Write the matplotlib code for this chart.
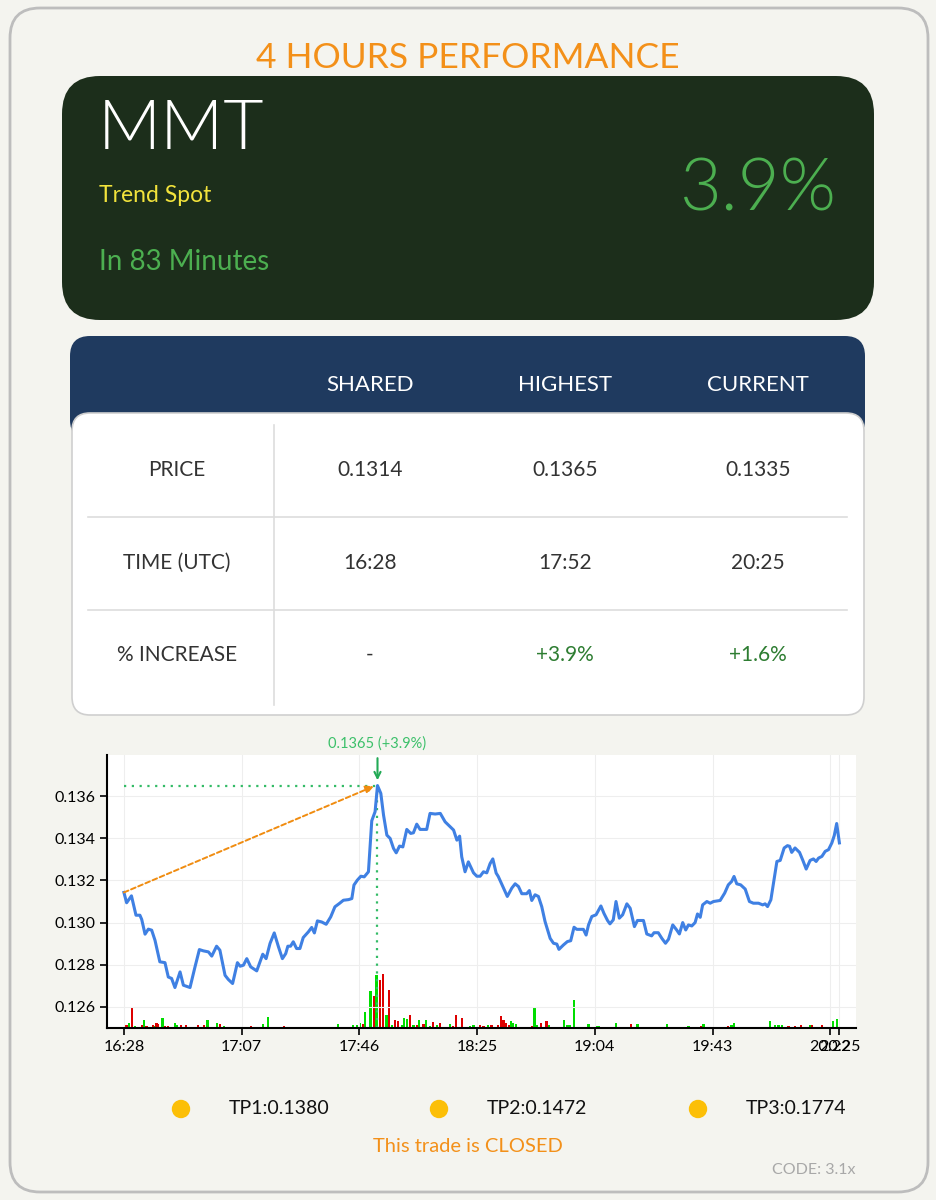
import matplotlib
matplotlib.use("Agg")
import matplotlib.pyplot as plt
from matplotlib.patches import FancyBboxPatch, Circle

plt.rcParams['font.family'] = ['Lato', 'DejaVu Sans']

# ---------------- data ----------------
title = "4 HOURS PERFORMANCE"
symbol = "MMT"
subtitle = "Trend Spot"
duration_text = "In 83 Minutes"
gain_text = "3.9%"

col_headers = ["SHARED", "HIGHEST", "CURRENT"]
row_labels = ["PRICE", "TIME (UTC)", "% INCREASE"]
row_price = ["0.1314", "0.1365", "0.1335"]
row_time = ["16:28", "17:52", "20:25"]
row_increase = ["-", "+3.9%", "+1.6%"]

tp_labels = ["TP1:0.1380", "TP2:0.1472", "TP3:0.1774"]
status_text = "This trade is CLOSED"
code_text = "CODE: 3.1x"

# minutes after 16:28
price_min = [0, 0.9, 2.5, 4.0, 5.3, 5.9, 7.0, 8.1, 9.2, 10.3,
             11.9, 13.6, 14.7, 15.8, 16.9, 18.6, 19.7, 21.9, 23.5, 25.0,
             26.3, 28.0, 29.1, 30.7, 31.8, 33.5, 34.6, 36.0, 37.6, 38.5,
             39.6, 40.7, 42.0, 44.0, 46.0, 47.1, 48.4, 49.8, 51.2, 52.5,
             53.6, 54.3, 55.2, 56.1, 57.2, 58.3, 59.4, 61.1, 62.2, 63.1,
             64.1, 65.5, 67.0, 68.5, 69.9, 71.4, 72.7, 74.4, 75.5, 76.2,
             77.3, 78.5, 79.6, 81.0, 82.1, 83.2, 84.0, 85.1, 86.0, 87.1,
             88.2, 89.3, 90.2, 91.3, 92.4, 93.7, 95.0, 95.9, 97.0, 98.1,
             100.3, 101.4, 103.1, 104.8, 106.4, 108.1, 109.2, 110.3, 111.2, 111.9,
             113.0, 114.1, 115.8, 116.9, 118.0, 119.1, 120.2, 121.3, 122.2, 123.3,
             124.0, 125.5, 127.0, 128.5, 129.6, 130.7, 131.8, 133.4, 134.3, 135.1,
             136.2, 137.3, 138.4, 139.5, 141.2, 142.3, 143.4, 144.1, 145.6, 146.9,
             148.0, 149.1, 150.0, 152.2, 153.1, 153.9, 155.0, 156.4, 158.0, 159.0,
             160.2, 161.0, 162.1, 163.0, 164.1, 165.2, 166.6, 167.7, 169.1, 170.1,
             172.1, 173.2, 174.8, 175.6, 177.0, 178.2, 179.4, 180.4, 181.8, 183.1,
             184.0, 185.1, 186.1, 187.0, 188.1, 189.2, 190.0, 190.9, 191.7, 193.1,
             194.2, 195.3, 197.5, 199.0, 200.2, 201.3, 202.1, 203.0, 204.3, 205.8,
             207.2, 208.5, 210.2, 211.6, 212.4, 213.2, 214.3, 216.3, 217.4, 218.7,
             219.8, 220.5, 221.2, 222.3, 223.8, 224.9, 226.0, 227.3, 228.4, 229.3,
             230.1, 231.2, 232.3, 233.4, 234.5, 235.3, 236.1, 237.0]
price_val = [0.13143, 0.13094, 0.13127, 0.13035, 0.13035, 0.13015, 0.12945, 0.12969, 0.12964, 0.12916,
             0.12814, 0.12810, 0.12742, 0.12735, 0.12692, 0.12766, 0.12703, 0.12692, 0.12787, 0.12872,
             0.12866, 0.12861, 0.12841, 0.12888, 0.12869, 0.12750, 0.12730, 0.12711, 0.12810, 0.12793,
             0.12798, 0.12829, 0.12790, 0.12771, 0.12850, 0.12829, 0.12901, 0.12951, 0.12885, 0.12829,
             0.12853, 0.12888, 0.12888, 0.12909, 0.12877, 0.12877, 0.12929, 0.12956, 0.12977, 0.12951,
             0.13008, 0.13003, 0.12992, 0.13027, 0.13075, 0.13091, 0.13106, 0.13109, 0.13114, 0.13178,
             0.13201, 0.13220, 0.13217, 0.13241, 0.13483, 0.13526, 0.13650, 0.13613, 0.13510, 0.13415,
             0.13399, 0.13352, 0.13331, 0.13363, 0.13359, 0.13442, 0.13423, 0.13426, 0.13467, 0.13442,
             0.13442, 0.13518, 0.13515, 0.13518, 0.13478, 0.13454, 0.13439, 0.13391, 0.13410, 0.13312,
             0.13241, 0.13288, 0.13236, 0.13220, 0.13220, 0.13241, 0.13236, 0.13280, 0.13302, 0.13235,
             0.13219, 0.13171, 0.13124, 0.13164, 0.13184, 0.13171, 0.13137, 0.13137, 0.13152, 0.13105,
             0.13132, 0.13124, 0.13076, 0.13005, 0.12925, 0.12902, 0.12898, 0.12873, 0.12894, 0.12910,
             0.12914, 0.12978, 0.12968, 0.12968, 0.12941, 0.12989, 0.13029, 0.13037, 0.13079, 0.13044,
             0.13010, 0.12994, 0.13013, 0.13100, 0.13021, 0.13037, 0.13089, 0.13068, 0.12981, 0.13010,
             0.13010, 0.12946, 0.12937, 0.12952, 0.12952, 0.12925, 0.12902, 0.12921, 0.12989, 0.12965,
             0.12946, 0.13000, 0.12965, 0.12989, 0.12984, 0.13000, 0.13041, 0.13025, 0.13084, 0.13100,
             0.13092, 0.13100, 0.13105, 0.13140, 0.13179, 0.13195, 0.13219, 0.13184, 0.13179, 0.13159,
             0.13100, 0.13092, 0.13092, 0.13084, 0.13089, 0.13076, 0.13108, 0.13290, 0.13295, 0.13354,
             0.13365, 0.13362, 0.13333, 0.13354, 0.13333, 0.13295, 0.13254, 0.13295, 0.13302, 0.13290,
             0.13306, 0.13314, 0.13338, 0.13346, 0.13378, 0.13413, 0.13470, 0.13378]

vol_min = [0.9, 1.8, 2.8, 3.6, 5.9, 6.6, 7.5, 8.6, 9.7, 10.3,
           10.8, 11.4, 12.8, 13.6, 14.7, 16.9, 17.7, 18.9, 19.7, 20.5,
           21.9, 23.0, 24.6, 26.6, 27.7, 29.9, 30.9, 31.8, 33.1, 34.0,
           42.0, 46.1, 47.8, 49.5, 51.1, 53.0, 53.9, 62.2, 63.3, 68.8,
           71.0, 76.0, 77.1, 78.2, 79.1, 79.9, 81.7, 82.9, 83.7, 84.8,
           85.9, 87.0, 87.9, 88.9, 89.8, 90.7, 92.0, 92.9, 93.7, 94.8,
           95.9, 97.0, 97.7, 99.2, 100.0, 101.4, 102.5, 103.6, 104.7, 105.8,
           108.0, 109.1, 110.0, 111.9, 113.5, 114.6, 115.8, 118.0, 119.1, 120.0,
           120.7, 121.8, 124.0, 124.9, 125.7, 126.6, 127.7, 128.1, 129.0, 129.9,
           131.0, 132.9, 135.1, 136.0, 136.7, 138.1, 139.0, 140.0, 140.8, 143.1,
           145.8, 146.9, 147.8, 149.1, 150.0, 153.9, 156.6, 157.2, 159.0, 160.0,
           161.0, 163.0, 166.0, 168.0, 170.1, 179.8, 185.3, 187.0, 190.3, 191.1,
           192.0, 195.8, 200.2, 201.3, 202.2, 214.1, 215.7, 216.8, 217.9, 220.1,
           222.3, 224.2, 227.3, 227.9, 231.2, 235.0, 236.1]
vol_val = [8, 15, 61, 5, 10, 23, 5, 3, 8, 6,
           16, 11, 30, 5, 6, 16, 8, 8, 3, 8,
           3, 3, 8, 8, 24, 3, 16, 13, 5, 3,
           5, 11, 33, 3, 3, 5, 3, 3, 3, 3,
           13, 10, 10, 16, 11, 48, 111, 95, 158, 145,
           161, 38, 113, 10, 25, 20, 8, 30, 26, 38,
           8, 10, 23, 13, 23, 6, 18, 8, 16, 3,
           13, 6, 40, 30, 3, 6, 10, 8, 5, 3,
           8, 10, 10, 35, 25, 16, 8, 21, 16, 11,
           3, 3, 5, 60, 8, 16, 3, 21, 8, 3,
           25, 10, 8, 85, 3, 13, 5, 5, 3, 3,
           3, 16, 3, 13, 11, 11, 3, 5, 3, 5,
           13, 3, 5, 8, 16, 21, 10, 8, 8, 5,
           6, 8, 8, 8, 8, 20, 28]
vol_up = ["r", "g", "r", "g", "r", "g", "r", "r", "r", "g",
          "r", "r", "g", "r", "r", "g", "g", "r", "g", "r",
          "g", "g", "r", "r", "g", "g", "g", "r", "g", "g",
          "r", "g", "g", "r", "r", "r", "g", "r", "r", "g",
          "g", "g", "g", "g", "r", "g", "g", "r", "g", "r",
          "r", "g", "r", "g", "r", "r", "g", "g", "g", "r",
          "g", "r", "g", "r", "g", "g", "r", "g", "r", "r",
          "g", "r", "r", "r", "g", "g", "g", "r", "r", "r",
          "g", "r", "r", "r", "r", "r", "r", "g", "g", "g",
          "r", "g", "r", "g", "g", "r", "g", "r", "g", "r",
          "g", "g", "g", "g", "g", "g", "g", "g", "r", "r",
          "r", "g", "g", "r", "g", "g", "g", "g", "r", "r",
          "g", "g", "r", "g", "g", "g", "g", "g", "g", "r",
          "r", "r", "g", "r", "r", "g", "g"]

xtick_pos = [0, 39, 78, 117, 156, 195, 234, 237]
xtick_labels = ["16:28", "17:07", "17:46", "18:25", "19:04", "19:43", "20:22", "20:25"]
ytick_vals = [0.126, 0.128, 0.130, 0.132, 0.134, 0.136]

start_min, start_price = 0, 0.13143
peak_min, peak_price = 84.0, 0.1365
peak_label = "0.1365 (+3.9%)"

# ---------------- figure ----------------
W, H = 936, 1200
BG = "#f4f4ef"
fig = plt.figure(figsize=(W / 100, H / 100), dpi=100, facecolor=BG)

bg = fig.add_axes([0, 0, 1, 1])
bg.set_xlim(0, W)
bg.set_ylim(H, 0)
bg.axis("off")

def rbox(x0, y0, x1, y1, r, fc, ec="none", lw=0, z=1):
    p = FancyBboxPatch((x0, y0), x1 - x0, y1 - y0,
                       boxstyle=f"round,pad=0,rounding_size={r}",
                       fc=fc, ec=ec, lw=lw, zorder=z)
    bg.add_patch(p)

# outer card
rbox(10, 8, 928, 1192, 30, BG, ec="#bdbdbd", lw=2, z=0)

bg.text(468, 58, title, color="#f39019", fontsize=25.5, ha="center", va="center")

# dark card
rbox(62, 76, 874, 320, 38, "#1c2e1b", z=1)
bg.text(98, 130, symbol, color="white", fontsize=50, ha="left", va="center",
        fontweight=300)
bg.text(99, 196, subtitle, color="#f2e33c", fontsize=16.5, ha="left", va="center")
bg.text(99, 262, duration_text, color="#4caf50", fontsize=20, ha="left", va="center")
bg.text(836, 190, gain_text, color="#4caf50", fontsize=52, ha="right", va="center",
        fontweight=300)

# table
rbox(70, 336, 865, 440, 20, "#1f3a5f", z=1)
rbox(72, 413, 864, 715, 18, "white", ec="#cfcfcf", lw=1.2, z=2)
col_x = [177, 370, 565, 758]
for cx, h in zip(col_x[1:], col_headers):
    bg.text(cx, 385, h, color="white", fontsize=16, ha="center", va="center")
bg.plot([274, 274], [425, 705], color="#dddddd", lw=1.2, zorder=3)
for yy in (517, 610):
    bg.plot([88, 847], [yy, yy], color="#dddddd", lw=1.2, zorder=3)
row_y = [470, 563, 655]
rows = [row_price, row_time, row_increase]
for ry, lab, vals in zip(row_y, row_labels, rows):
    bg.text(col_x[0], ry, lab, color="#333333", fontsize=15, ha="center", va="center", zorder=4)
    for cx, v in zip(col_x[1:], vals):
        c = "#2e7d32" if v.startswith("+") else "#333333"
        bg.text(cx, ry, v, color=c, fontsize=15, ha="center", va="center", zorder=4)

# TP legend
for dx, lab in zip([181, 439, 698], tp_labels):
    bg.add_patch(Circle((dx, 1109), 8.5, color="#fcbf07", zorder=3))
    bg.text(dx + 48, 1109, lab, color="#111111", fontsize=14, ha="left", va="center")
bg.text(468, 1147, status_text, color="#f39019", fontsize=14.5, ha="center", va="center")
bg.text(856, 1170, code_text, color="#a8a8a8", fontsize=11.5, ha="right", va="center")

# ---------------- chart ----------------
L, R, T, B = 107, 856, 755, 1028
ax = fig.add_axes([L / W, 1 - B / H, (R - L) / W, (B - T) / H])
ax.set_facecolor("white")
vax = ax.twinx()
vax.bar(vol_min, vol_val, width=0.75,
        color=["#00dd00" if c == "g" else "#dd0000" for c in vol_up], zorder=1)
vax.set_ylim(0, 819)
vax.set_yticks([])
for s in vax.spines.values():
    s.set_visible(False)

ax.set_zorder(vax.get_zorder() + 1)
ax.patch.set_visible(False)
vax.patch.set_visible(True)
vax.patch.set_facecolor("white")

ax.plot(price_min, price_val, color="#3f80e3", lw=2.2, zorder=3)

ax.set_xlim(-5.6, 242.5)
ax.set_ylim(0.1250, 0.13795)
ax.set_xticks(xtick_pos)
ax.set_xticklabels(xtick_labels)
ax.set_yticks(ytick_vals)
ax.set_yticklabels([f"{v:.3f}" for v in ytick_vals])
ax.tick_params(axis="both", labelsize=11.5, color="black", length=5, width=1.2)
ax.grid(True, color="#eeeeee", lw=0.8)
ax.set_axisbelow(True)
for s in ("top", "right"):
    ax.spines[s].set_visible(False)
for s in ("left", "bottom"):
    ax.spines[s].set_linewidth(1.5)
    ax.spines[s].set_color("black")

GREEN = "#33bb66"
ax.plot([start_min, peak_min], [peak_price, peak_price], color=GREEN, lw=1.6,
        linestyle=(0, (1, 2.5)), zorder=2)
ax.plot([peak_min, peak_min], [0.1250, peak_price], color=GREEN, lw=1.6,
        linestyle=(0, (1, 2.5)), zorder=2)
ax.annotate("", xy=(peak_min - 1.2, peak_price - 0.00003), xytext=(start_min, start_price),
            arrowprops=dict(arrowstyle="-|>", color="#f08c10", lw=1.4,
                            linestyle=(0, (2.5, 1.5)), mutation_scale=12,
                            shrinkA=0, shrinkB=0), zorder=4)
ax.annotate("", xy=(peak_min, peak_price + 0.00025), xytext=(peak_min, peak_price + 0.0013),
            arrowprops=dict(arrowstyle="->", color="#22aa55", lw=1.5, mutation_scale=11,
                            shrinkA=0, shrinkB=0), annotation_clip=False)
ax.text(peak_min, peak_price + 0.00197, peak_label, color="#3cc06a", fontsize=10.5,
        ha="center", va="center", clip_on=False)

fig.savefig("out.png", dpi=100, facecolor=BG)
